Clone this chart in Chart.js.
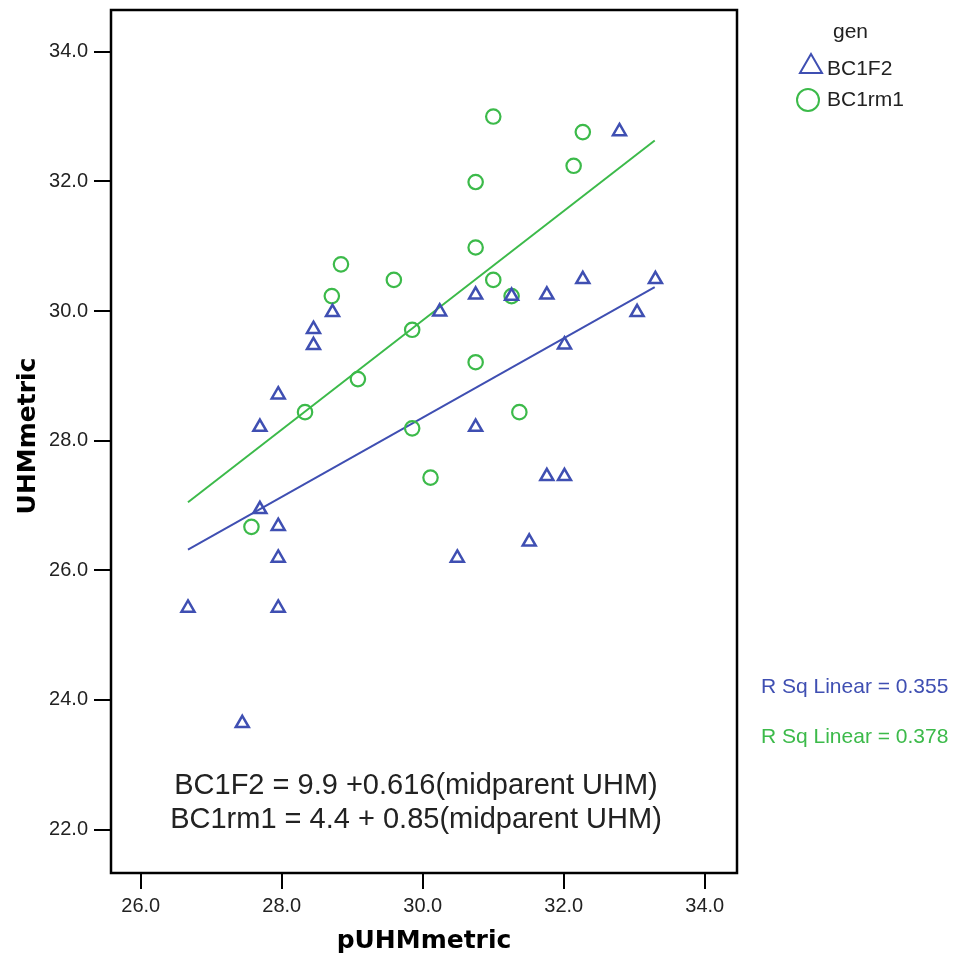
<!DOCTYPE html>
<html>
<head>
<meta charset="utf-8">
<script src="https://cdn.jsdelivr.net/npm/chart.js@4.4.1/dist/chart.umd.min.js"></script>
<style>
  html, body { margin: 0; padding: 0; background: #ffffff; }
  #wrap { width: 955px; height: 957px; position: relative; }
</style>
</head>
<body>
<div id="wrap"><canvas id="c" width="955" height="957"></canvas></div>
<script>
// ---- Data ----
const xTickValues = [26, 28, 30, 32, 34];
const yTickValues = [22, 24, 26, 28, 30, 32, 34];

const bc1f2X = [26.67, 27.44, 27.69, 27.69, 27.95, 27.95, 27.95, 27.95, 28.45, 28.45, 28.72, 30.24, 30.75, 30.75, 30.49, 31.26, 31.76, 31.76, 32.01, 32.01, 31.51, 32.27, 32.79, 33.04, 33.30];
const bc1f2Y = [25.42, 23.64, 28.21, 26.94, 28.71, 26.68, 26.19, 25.42, 29.72, 29.47, 29.98, 29.99, 30.25, 28.21, 26.19, 30.23, 30.25, 27.45, 27.45, 29.48, 26.44, 30.49, 32.77, 29.98, 30.49];

const bc1rm1X = [31.00, 32.27, 32.14, 30.75, 30.75, 31.00, 31.26, 30.75, 31.37, 30.11, 29.85, 29.08, 28.33, 27.57, 29.85, 28.84, 29.59, 28.71];
const bc1rm1Y = [33.00, 32.76, 32.24, 31.99, 30.98, 30.48, 30.23, 29.21, 28.44, 27.43, 29.71, 28.95, 28.44, 26.67, 28.19, 30.72, 30.48, 30.23];

// fit-line end points
const bc1f2FitX = [26.67, 33.29];
const bc1f2FitY = [26.32, 30.37];
const bc1rm1FitX = [26.67, 33.29];
const bc1rm1FitY = [27.05, 32.63];

const seriesNames = ['BC1F2', 'BC1rm1'];
const legendTitle = 'gen';
const rsqLabels = ['R Sq Linear = 0.355', 'R Sq Linear = 0.378'];
const equationLines = ['BC1F2 = 9.9 +0.616(midparent UHM)', 'BC1rm1 = 4.4 + 0.85(midparent UHM)'];
const xTitle = 'pUHMmetric';
const yTitle = 'UHMmetric';

// ---- Styling ----
const BLUE = '#3f4fb2';
const GREEN = '#3cba4a';
const SANS = '"Liberation Sans", Arial, sans-serif';
const BOLD = '"DejaVu Sans", sans-serif';

const pts = (xs, ys) => xs.map((x, i) => ({ x: x, y: ys[i] }));

const overlay = {
  id: 'overlay',
  afterDraw(chart) {
    const ctx = chart.ctx;
    const a = chart.chartArea;
    ctx.save();
    // frame
    ctx.strokeStyle = '#000';
    ctx.lineWidth = 2.5;
    ctx.strokeRect(a.left, a.top, a.right - a.left, a.bottom - a.top);

    // axis titles
    ctx.fillStyle = '#000';
    ctx.font = 'bold 25px ' + BOLD;
    ctx.textAlign = 'center';
    ctx.textBaseline = 'alphabetic';
    ctx.fillText(xTitle, (a.left + a.right) / 2, 948);
    ctx.save();
    ctx.translate(35, 436);
    ctx.rotate(-Math.PI / 2);
    ctx.fillText(yTitle, 0, 0);
    ctx.restore();

    // equations
    ctx.fillStyle = '#222';
    ctx.font = '29px ' + SANS;
    ctx.textAlign = 'center';
    ctx.fillText(equationLines[0], 416, 794);
    ctx.fillText(equationLines[1], 416, 828);

    // legend
    ctx.font = '21px ' + SANS;
    ctx.textAlign = 'left';
    ctx.fillStyle = '#222';
    ctx.fillText(legendTitle, 833, 38);
    ctx.fillText(seriesNames[0], 827, 75);
    ctx.fillText(seriesNames[1], 827, 106);
    ctx.lineWidth = 2;
    ctx.strokeStyle = BLUE;
    ctx.beginPath();
    ctx.moveTo(811, 54);
    ctx.lineTo(822, 73);
    ctx.lineTo(800, 73);
    ctx.closePath();
    ctx.stroke();
    ctx.strokeStyle = GREEN;
    ctx.beginPath();
    ctx.arc(808, 100, 11, 0, Math.PI * 2);
    ctx.stroke();

    // R squared labels
    ctx.font = '21px ' + SANS;
    ctx.fillStyle = BLUE;
    ctx.fillText(rsqLabels[0], 761, 693);
    ctx.fillStyle = GREEN;
    ctx.fillText(rsqLabels[1], 761, 743);
    ctx.restore();
  }
};

const tickFont = { family: SANS, size: 20 };

new Chart(document.getElementById('c'), {
  type: 'scatter',
  data: {
    datasets: [
      {
        label: seriesNames[0] + ' fit', data: pts(bc1f2FitX, bc1f2FitY), showLine: true,
        borderColor: BLUE, borderWidth: 2, pointRadius: 0, fill: false, order: 1
      },
      {
        label: seriesNames[1] + ' fit', data: pts(bc1rm1FitX, bc1rm1FitY), showLine: true,
        borderColor: GREEN, borderWidth: 2, pointRadius: 0, fill: false, order: 1
      },
      {
        label: seriesNames[0], data: pts(bc1f2X, bc1f2Y), pointStyle: 'triangle',
        pointRadius: 7.5, pointBorderWidth: 2.5, borderColor: BLUE, backgroundColor: 'rgba(0,0,0,0)',
        pointBackgroundColor: 'rgba(0,0,0,0)', pointBorderColor: BLUE, order: 0
      },
      {
        label: seriesNames[1], data: pts(bc1rm1X, bc1rm1Y), pointStyle: 'circle',
        pointRadius: 7.2, pointBorderWidth: 2.2, borderColor: GREEN, backgroundColor: 'rgba(0,0,0,0)',
        pointBackgroundColor: 'rgba(0,0,0,0)', pointBorderColor: GREEN, order: 0
      }
    ]
  },
  options: {
    responsive: false,
    animation: false,
    devicePixelRatio: 1,
    layout: { padding: { left: 0, top: 10, right: 218, bottom: 0 } },
    plugins: { legend: { display: false }, tooltip: { enabled: false } },
    scales: {
      x: {
        type: 'linear', min: 25.578, max: 34.457,
        afterBuildTicks: (s) => { s.ticks = xTickValues.map(v => ({ value: v })); },
        afterFit: (s) => { s.height = 84; s.paddingLeft = 0; s.paddingRight = 0; },
        ticks: { callback: (v) => Number(v).toFixed(1), font: tickFont, color: '#222', padding: 5, maxRotation: 0, autoSkip: false },
        grid: { drawOnChartArea: false, drawTicks: true, tickLength: 16, color: '#000', lineWidth: 2 },
        border: { display: false }
      },
      y: {
        type: 'linear', min: 21.33, max: 34.644,
        afterBuildTicks: (s) => { s.ticks = yTickValues.map(v => ({ value: v })); },
        afterFit: (s) => { s.width = 111; s.paddingTop = 0; s.paddingBottom = 0; },
        ticks: { callback: (v) => Number(v).toFixed(1), font: tickFont, color: '#222', padding: 6, autoSkip: false },
        grid: { drawOnChartArea: false, drawTicks: true, tickLength: 17, color: '#000', lineWidth: 2 },
        border: { display: false }
      }
    }
  },
  plugins: [overlay]
});
</script>
</body>
</html>
